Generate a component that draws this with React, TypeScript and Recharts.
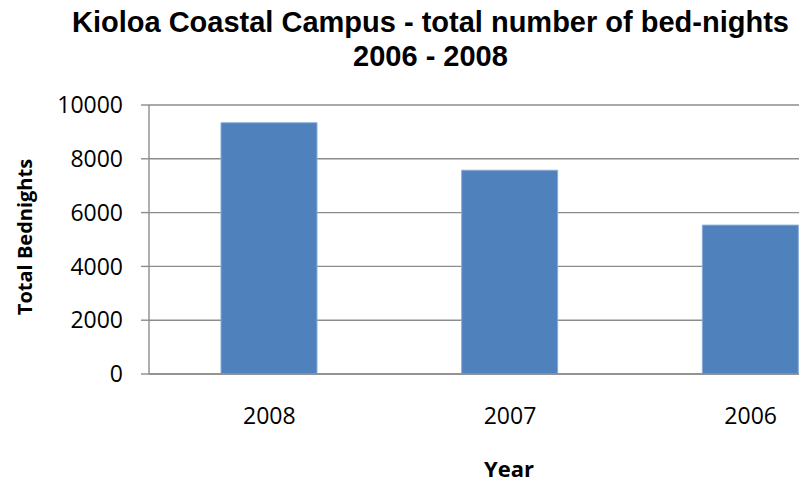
import { BarChart, Bar, XAxis, YAxis, CartesianGrid } from 'recharts'

const years = ['2008', '2007', '2006']
const bedNights = [9340, 7575, 5535]
const yTicks = [0, 2000, 4000, 6000, 8000, 10000]

const data = years.map((year, i) => ({ year, nights: bedNights[i] }))

const tickFont = { fontFamily: '"Open Sans", sans-serif', fontSize: 23, fill: '#000' }

export default function App() {
  return (
    <div style={{ position: 'absolute', left: 0, top: 0, width: 799, height: 481, overflow: 'hidden', background: '#fff' }}>
      {/* title, second line centred under the first */}
      <div
        style={{
          position: 'absolute', left: 72, top: 5, display: 'inline-block', textAlign: 'center', whiteSpace: 'nowrap',
          fontFamily: '"Liberation Sans", Arial, sans-serif',
          fontWeight: 'bold', fontSize: 29, lineHeight: '34px', color: '#000',
        }}
      >
        Kioloa Coastal Campus - total number of bed-nights
        <br />
        2006 - 2008
      </div>

      <BarChart width={880} height={481} data={data} margin={{ top: 105, right: 9, left: 89, bottom: 47 }}>
        <CartesianGrid vertical={false} stroke="#8c8c8c" strokeWidth={1.4} />
        <XAxis
          dataKey="year"
          height={60}
          axisLine={{ stroke: '#8c8c8c', strokeWidth: 1.4 }}
          tickLine={false}
          tickSize={0}
          tickMargin={34}
          tick={tickFont}
        />
        <YAxis
          width={60}
          domain={[0, 10000]}
          ticks={yTicks}
          axisLine={{ stroke: '#8c8c8c', strokeWidth: 1.4 }}
          tickLine={{ stroke: '#8c8c8c', strokeWidth: 1.4 }}
          tickSize={8}
          tickMargin={18}
          tick={tickFont}
        />
        <Bar dataKey="nights" fill="#4f81bd" stroke="#8badd6" strokeWidth={1} barSize={96} isAnimationActive={false} />
      </BarChart>

      {/* axis titles */}
      <div
        style={{
          position: 'absolute', left: 24, top: 237, transform: 'translate(-50%, -50%) rotate(-90deg)',
          whiteSpace: 'nowrap', fontFamily: '"Open Sans", sans-serif', fontWeight: 'bold', fontSize: 20, color: '#000',
        }}
      >
        Total Bednights
      </div>
      <div
        style={{
          position: 'absolute', left: 509, top: 468, transform: 'translate(-50%, -50%)', lineHeight: 1,
          whiteSpace: 'nowrap', fontFamily: '"Open Sans", sans-serif', fontWeight: 'bold', fontSize: 22, color: '#000',
        }}
      >
        Year
      </div>
    </div>
  )
}
